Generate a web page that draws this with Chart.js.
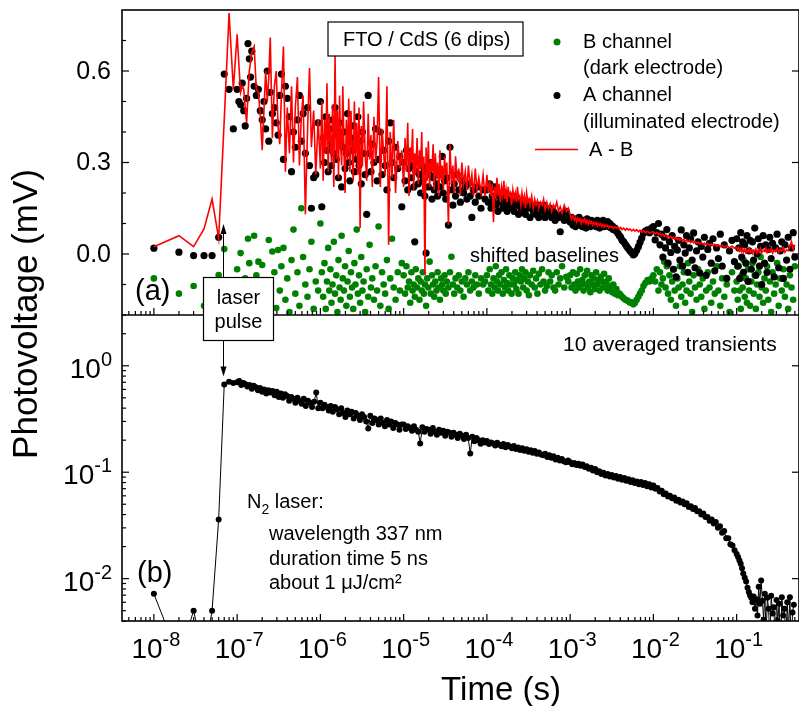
<!DOCTYPE html>
<html>
<head>
<meta charset="utf-8">
<title>Photovoltage transients</title>
<script src="https://cdn.jsdelivr.net/npm/chart.js@4.4.1/dist/chart.umd.min.js"></script>
<style>
  html, body { margin: 0; padding: 0; background: #fff; overflow: hidden; }
  canvas { display: block; }
</style>
</head>
<body>
<canvas id="grafico" width="803" height="706"></canvas>
<script>
// Upper panel: time base (s)
const timeTop = [
  1e-8, 2e-8, 3e-8, 4e-8, 5e-8, 6e-8, 7e-8, 8e-8, 9e-8,
  1.00e-7, 1.05e-7, 1.10e-7, 1.15e-7, 1.20e-7, 1.25e-7, 1.30e-7, 1.35e-7, 1.40e-7, 1.45e-7, 1.50e-7,
  1.60e-7, 1.70e-7, 1.80e-7, 1.90e-7, 2.00e-7, 2.10e-7, 2.20e-7, 2.30e-7, 2.40e-7, 2.50e-7,
  2.65e-7, 2.80e-7, 2.95e-7, 3.10e-7, 3.25e-7, 3.40e-7, 3.60e-7, 3.80e-7, 4.00e-7, 4.25e-7,
  4.50e-7, 4.75e-7, 5.00e-7, 5.30e-7, 5.60e-7, 5.90e-7, 6.20e-7, 6.60e-7, 7.00e-7, 7.40e-7,
  7.80e-7, 8.30e-7, 8.80e-7, 9.40e-7,
  1.00e-6, 1.04e-6, 1.08e-6, 1.12e-6, 1.16e-6, 1.20e-6, 1.24e-6, 1.28e-6, 1.32e-6, 1.36e-6, 1.40e-6,
  1.45e-6, 1.50e-6, 1.55e-6, 1.60e-6, 1.65e-6, 1.70e-6, 1.75e-6, 1.80e-6, 1.86e-6, 1.92e-6,
  1.98e-6, 2.05e-6, 2.12e-6, 2.19e-6, 2.26e-6, 2.33e-6, 2.40e-6, 2.48e-6, 2.56e-6, 2.64e-6,
  2.73e-6, 2.82e-6, 2.91e-6, 3.00e-6, 3.10e-6, 3.20e-6, 3.30e-6, 3.45e-6, 3.60e-6, 3.75e-6,
  3.90e-6, 4.05e-6, 4.20e-6, 4.40e-6, 4.60e-6, 4.80e-6, 5.00e-6, 5.25e-6, 5.50e-6, 5.75e-6,
  6.00e-6, 6.30e-6, 6.60e-6, 6.90e-6, 7.25e-6, 7.60e-6, 8.00e-6, 8.50e-6, 9.00e-6, 9.50e-6,
  1.00e-5, 1.04e-5, 1.08e-5, 1.12e-5, 1.16e-5, 1.20e-5, 1.24e-5, 1.28e-5, 1.32e-5, 1.36e-5, 1.40e-5,
  1.45e-5, 1.50e-5, 1.55e-5, 1.60e-5, 1.65e-5, 1.70e-5, 1.75e-5, 1.80e-5, 1.86e-5, 1.92e-5,
  1.98e-5, 2.05e-5, 2.12e-5, 2.19e-5, 2.26e-5, 2.33e-5, 2.40e-5, 2.48e-5, 2.56e-5, 2.64e-5,
  2.73e-5, 2.82e-5, 2.91e-5, 3.00e-5, 3.10e-5, 3.20e-5, 3.30e-5, 3.45e-5, 3.60e-5, 3.75e-5,
  3.90e-5, 4.05e-5, 4.20e-5, 4.40e-5, 4.60e-5, 4.80e-5, 5.00e-5, 5.25e-5, 5.50e-5, 5.75e-5,
  6.00e-5, 6.30e-5, 6.60e-5, 6.90e-5, 7.25e-5, 7.60e-5, 8.00e-5, 8.50e-5, 9.00e-5, 9.50e-5,
  1.00e-4, 1.04e-4, 1.08e-4, 1.12e-4, 1.16e-4, 1.20e-4, 1.24e-4, 1.28e-4, 1.32e-4, 1.36e-4, 1.40e-4,
  1.45e-4, 1.50e-4, 1.55e-4, 1.60e-4, 1.65e-4, 1.70e-4, 1.75e-4, 1.80e-4, 1.86e-4, 1.92e-4,
  1.98e-4, 2.05e-4, 2.12e-4, 2.19e-4, 2.26e-4, 2.33e-4, 2.40e-4, 2.48e-4, 2.56e-4, 2.64e-4,
  2.73e-4, 2.82e-4, 2.91e-4, 3.00e-4, 3.10e-4, 3.20e-4, 3.30e-4, 3.45e-4, 3.60e-4, 3.75e-4,
  3.90e-4, 4.05e-4, 4.20e-4, 4.40e-4, 4.60e-4, 4.80e-4, 5.00e-4, 5.25e-4, 5.50e-4, 5.75e-4,
  6.00e-4, 6.30e-4, 6.60e-4, 6.90e-4, 7.25e-4, 7.60e-4, 8.00e-4, 8.50e-4, 9.00e-4, 9.50e-4,
  1.00e-3, 1.04e-3, 1.08e-3, 1.12e-3, 1.16e-3, 1.20e-3, 1.24e-3, 1.28e-3, 1.32e-3, 1.36e-3, 1.40e-3,
  1.45e-3, 1.50e-3, 1.55e-3, 1.60e-3, 1.65e-3, 1.70e-3, 1.75e-3, 1.80e-3, 1.86e-3, 1.92e-3,
  1.98e-3, 2.05e-3, 2.12e-3, 2.19e-3, 2.26e-3, 2.33e-3, 2.40e-3, 2.48e-3, 2.56e-3, 2.64e-3,
  2.73e-3, 2.82e-3, 2.91e-3, 3.00e-3, 3.10e-3, 3.20e-3, 3.30e-3, 3.45e-3, 3.60e-3, 3.75e-3,
  3.90e-3, 4.05e-3, 4.20e-3, 4.40e-3, 4.60e-3, 4.80e-3, 5.00e-3, 5.25e-3, 5.50e-3, 5.75e-3,
  6.00e-3, 6.30e-3, 6.60e-3, 6.90e-3, 7.25e-3, 7.60e-3, 8.00e-3, 8.50e-3, 9.00e-3, 9.50e-3,
  1.00e-2, 1.05e-2, 1.10e-2, 1.15e-2, 1.20e-2, 1.25e-2, 1.30e-2, 1.35e-2, 1.40e-2, 1.45e-2, 1.50e-2,
  1.56e-2, 1.62e-2, 1.68e-2, 1.74e-2, 1.80e-2, 1.87e-2, 1.94e-2, 2.01e-2, 2.08e-2, 2.16e-2,
  2.24e-2, 2.32e-2, 2.41e-2, 2.50e-2, 2.60e-2, 2.70e-2, 2.80e-2, 2.92e-2, 3.04e-2, 3.16e-2,
  3.30e-2, 3.44e-2, 3.60e-2, 3.76e-2, 3.92e-2, 4.10e-2, 4.30e-2, 4.50e-2, 4.72e-2, 4.95e-2,
  5.20e-2, 5.46e-2, 5.74e-2, 6.04e-2, 6.36e-2, 6.70e-2, 7.10e-2, 7.60e-2, 8.20e-2, 8.80e-2, 9.40e-2,
  1.00e-1, 1.03e-1, 1.06e-1, 1.09e-1, 1.12e-1, 1.15e-1, 1.18e-1, 1.21e-1, 1.25e-1, 1.29e-1, 1.33e-1,
  1.37e-1, 1.41e-1, 1.45e-1, 1.50e-1, 1.55e-1, 1.60e-1, 1.65e-1, 1.70e-1, 1.76e-1, 1.82e-1,
  1.88e-1, 1.94e-1, 2.00e-1, 2.08e-1, 2.16e-1, 2.24e-1, 2.32e-1, 2.40e-1, 2.50e-1, 2.60e-1,
  2.70e-1, 2.82e-1, 2.94e-1, 3.06e-1, 3.20e-1, 3.34e-1, 3.48e-1, 3.64e-1, 3.80e-1, 3.98e-1,
  4.16e-1, 4.36e-1, 4.56e-1, 4.78e-1, 5.00e-1
];

// A channel, illuminated electrode (mV)
const chanA = [
  0.019, 0.006, -0.005, -0.005, -0.005, 0.055, 0.59, 0.54, 0.41,
  0.54, 0.50, 0.49, 0.56, 0.47, 0.42, 0.51, 0.69, 0.64, 0.58, 0.665,
  0.55, 0.52, 0.54, 0.47, 0.44, 0.50, 0.41, 0.60, 0.37, 0.53,
  0.46, 0.48, 0.43, 0.39, 0.52, 0.59, 0.31, 0.55, 0.51, 0.45,
  0.27, 0.40, 0.35, 0.44, 0.52, 0.37, 0.46, 0.33, 0.48, 0.29,
  0.15, 0.25, 0.26, 0.43,
  0.50, 0.155, 0.38, 0.30, 0.45, 0.34, 0.27, 0.41, 0.36, 0.29, 0.44,
  0.33, 0.48, 0.31, 0.39, 0.25, 0.43, 0.37, 0.22, 0.35, 0.40,
  0.28, 0.33, 0.46, 0.30, 0.24, 0.38, 0.34, 0.42, 0.27, 0.36,
  0.31, 0.45, 0.29, 0.37, 0.23, 0.40, 0.33, 0.26, 0.13, 0.52,
  0.33, 0.27, 0.36, 0.30, 0.41, 0.24, 0.31, 0.40, 0.26, 0.34,
  0.29, 0.21, 0.37, 0.43, 0.30, 0.25, 0.35, 0.28, 0.32, 0.155,
  0.30, 0.24, 0.34, 0.21, 0.28, 0.32, 0.25, 0.29, 0.22, 0.04, 0.27,
  0.31, 0.23, 0.26, 0.20, 0.29, 0.24, 0.27, 0.19, 0.003, 0.28,
  0.22, 0.26, 0.30, 0.18, 0.25, 0.21, 0.28, 0.23, 0.19, 0.26,
  0.22, 0.27, 0.32, 0.20, 0.24, 0.18, 0.25, 0.095, 0.35, 0.21,
  0.16, 0.23, 0.19, 0.26, 0.21, 0.17, 0.24, 0.20, 0.22, 0.18,
  0.23, 0.19, 0.12, 0.21, 0.17, 0.22, 0.19, 0.15, 0.21, 0.18,
  0.21, 0.17, 0.23, 0.15, 0.19, 0.17, 0.22, 0.16, 0.19, 0.14, 0.20,
  0.17, 0.19, 0.15, 0.18, 0.16, 0.20, 0.14, 0.18, 0.16, 0.17,
  0.15, 0.19, 0.14, 0.17, 0.16, 0.18, 0.13, 0.17, 0.15, 0.16,
  0.14, 0.17, 0.13, 0.16, 0.15, 0.17, 0.12, 0.16, 0.14, 0.15,
  0.13, 0.16, 0.12, 0.15, 0.14, 0.16, 0.12, 0.14, 0.13, 0.15,
  0.12, 0.14, 0.11, 0.13, 0.12, 0.073, 0.13, 0.11, 0.14, 0.12,
  0.105, 0.12, 0.095, 0.11, 0.09, 0.115, 0.10, 0.12, 0.095, 0.105, 0.09,
  0.11, 0.10, 0.085, 0.115, 0.095, 0.105, 0.09, 0.11, 0.10, 0.095,
  0.105, 0.09, 0.11, 0.10, 0.085, 0.105, 0.095, 0.11, 0.09, 0.10,
  0.095, 0.106, 0.09, 0.10, 0.085, 0.092, 0.08, 0.085, 0.075, 0.068,
  0.06, 0.055, 0.045, 0.04, 0.032, 0.024, 0.018, 0.01, 0.004, -0.003,
  0.002, 0.012, 0.024, 0.038, 0.052, 0.068, 0.075, 0.079, 0.07, 0.085,
  0.09, 0.046, 0.07, 0.10, 0.03, 0.065, -0.01, 0.055, 0.02, 0.08, -0.03,
  0.04, 0.005, 0.06, -0.05, 0.025, -0.075, 0.013, 0.045, -0.02, 0.079,
  -0.04, 0.03, 0.003, 0.06, -0.06, 0.02, 0.05, -0.02, 0.069, -0.045,
  0.01, 0.04, -0.062, 0.025, -0.01, 0.055, -0.07, 0.015, 0.035, -0.03,
  0.05, -0.055, 0.02, -0.015, 0.065, -0.04, 0.03, -0.08, 0.01, 0.045, -0.025,
  0.05, -0.04, 0.02, -0.08, 0.07, -0.01, 0.04, -0.06, 0.03, -0.03, 0.06,
  -0.09, 0.01, 0.045, -0.05, 0.04, -0.02, 0.085, -0.07, 0.0, 0.05,
  -0.04, 0.025, -0.10, 0.06, -0.03, 0.03, -0.06, 0.015, 0.055, -0.015,
  0.035, -0.075, 0.02, 0.065, -0.045, 0.01, 0.04, -0.08, 0.03, -0.02,
  0.055, -0.05, 0.02, 0.07, -0.01
];

// B channel, dark electrode (mV, shifted baseline)
const chanB = [
  -0.08, -0.13, -0.105, -0.17, -0.19, -0.069, 0.016, -0.14, -0.18,
  -0.05, -0.16, 0.003, -0.12, -0.19, -0.08, -0.14, 0.05, -0.03, -0.17, -0.10,
  0.06, -0.07, -0.025, -0.156, -0.036, -0.11, -0.18, -0.09, 0.046, -0.145,
  0.008, -0.06, -0.177, 0.013, -0.12, -0.04, 0.02, -0.15, -0.08, -0.19,
  -0.02, 0.08, -0.13, -0.06, -0.17, 0.15, -0.01, -0.10, -0.14, -0.05,
  0.04, -0.18, -0.09, -0.12,
  0.10, -0.06, -0.14, -0.03, -0.18, -0.09, 0.02, -0.12, -0.05, -0.16, -0.10,
  0.04, -0.13, -0.07, -0.19, -0.02, -0.11, -0.15, 0.06, -0.08, -0.12,
  -0.04, -0.17, -0.09, 0.01, -0.14, -0.06, -0.11, -0.18, -0.03, -0.10,
  0.08, -0.13, -0.07, -0.16, -0.01, -0.12, -0.09, -0.19, -0.05, -0.14,
  0.03, -0.11, -0.08, -0.15, -0.04, -0.12, 0.09, -0.17, -0.06, -0.10,
  -0.13, -0.02, -0.18, -0.08, 0.05, -0.11, -0.15, -0.06, -0.12, -0.03,
  -0.07, -0.13, -0.04, -0.11, -0.09, -0.16, -0.06, -0.12, -0.10, -0.14, -0.05,
  -0.11, -0.08, -0.15, -0.09, -0.12, -0.06, -0.13, -0.10, -0.17, -0.08,
  -0.11, -0.025, -0.13, -0.07, -0.10, -0.14, -0.09, -0.12, -0.06, -0.11,
  -0.15, -0.08, -0.10, -0.12, -0.07, -0.13, -0.09, -0.11, -0.06, -0.009,
  -0.10, -0.13, -0.08, -0.11, -0.07, -0.12, -0.09, -0.14, -0.08, -0.10,
  -0.06, -0.12, -0.09, -0.11, -0.07, -0.10, -0.13, -0.08, -0.10, -0.09,
  -0.07, -0.12, -0.05, -0.10, -0.13, -0.08, -0.11, -0.04, -0.09, -0.12, -0.07,
  -0.10, -0.06, -0.13, -0.085, -0.11, -0.05, -0.095, -0.12, -0.07, -0.10,
  -0.13, -0.08, -0.10, -0.06, -0.115, -0.085, -0.13, -0.07, -0.09, -0.05,
  -0.11, -0.08, -0.06, -0.12, -0.09, -0.135, -0.07, -0.10, -0.055, -0.11,
  -0.08, -0.13, -0.065, -0.10, -0.05, -0.09, -0.12, -0.105, -0.06, -0.09,
  -0.07, -0.11, -0.12, -0.06, -0.10, -0.08, -0.04, -0.11, -0.075, -0.09,
  -0.07, -0.11, -0.06, -0.10, -0.12, -0.065, -0.09, -0.11, -0.05, -0.10, -0.085,
  -0.12, -0.07, -0.10, -0.055, -0.11, -0.09, -0.125, -0.07, -0.10, -0.08,
  -0.115, -0.06, -0.10, -0.085, -0.12, -0.075, -0.09, -0.11, -0.065, -0.10,
  -0.09, -0.12, -0.08, -0.11, -0.105, -0.125, -0.10, -0.13, -0.115, -0.135,
  -0.13, -0.135, -0.14, -0.145, -0.15, -0.152, -0.155, -0.16, -0.158, -0.165,
  -0.16, -0.15, -0.14, -0.13, -0.12, -0.105, -0.095, -0.085, -0.09, -0.08,
  -0.07, -0.09, -0.05, -0.12, -0.06, -0.10, -0.08, -0.025, -0.11, -0.04, -0.13,
  -0.07, -0.15, -0.09, -0.05, -0.12, -0.17, -0.08, -0.11, -0.04, -0.14,
  -0.10, -0.06, -0.16, -0.12, -0.03, -0.09, -0.13, -0.19, -0.07, -0.11,
  -0.15, -0.05, -0.10, -0.14, -0.08, -0.18, -0.12, -0.06, -0.11, -0.16,
  -0.09, -0.13, -0.04, -0.12, -0.17, -0.08, -0.14, -0.10, -0.19, -0.06, -0.12,
  -0.09, -0.15, -0.04, -0.12, -0.18, -0.07, -0.11, -0.02, -0.14, -0.08, -0.16,
  -0.05, -0.12, -0.17, -0.09, -0.03, -0.13, -0.07, -0.18, -0.10, -0.06,
  -0.14, -0.01, -0.11, -0.16, -0.08, -0.12, -0.04, -0.15, -0.09, -0.19,
  -0.06, -0.13, -0.10, -0.03, -0.17, -0.08, -0.12, -0.05, -0.14, -0.10,
  -0.18, -0.07, -0.11, -0.15, -0.04
];

// A - B difference (mV)
const diffAB = [
  0.024, 0.060, 0.024, 0.082, 0.180, 0.051, 0.44, 0.79, 0.54,
  0.72, 0.62, 0.53, 0.55, 0.54, 0.48, 0.43, 0.52, 0.60, 0.63, 0.66,
  0.68, 0.54, 0.53, 0.45, 0.34, 0.47, 0.60, 0.50, 0.58, 0.71,
  0.38, 0.55, 0.60, 0.42, 0.36, 0.52, 0.68, 0.27, 0.48, 0.33,
  0.55, 0.30, 0.48, 0.58, 0.29, 0.45, 0.52, 0.13, 0.40, 0.61,
  0.35, 0.47, 0.26, 0.44,
  0.28, 0.50, 0.24, 0.44, 0.33, 0.56, 0.27, 0.46, 0.38, 0.30, 0.49,
  0.22, 0.65, 0.31, 0.47, 0.25, 0.52, 0.36, 0.29, 0.55, 0.34,
  0.20, 0.44, 0.31, 0.51, 0.27, 0.47, 0.35, 0.24, 0.50, 0.32,
  0.43, 0.26, 0.48, 0.085, 0.42, 0.29, 0.50, 0.33, 0.24, 0.46,
  0.31, 0.39, 0.22, 0.45, 0.30, 0.37, 0.58, 0.22, 0.41, 0.33,
  0.26, 0.55, 0.03, 0.40, 0.25, 0.44, 0.20, 0.37, 0.28, 0.34,
  0.22, 0.38, 0.27, 0.43, 0.19, 0.35, 0.30, 0.41, 0.21, 0.33, 0.26,
  0.38, 0.23, 0.34, 0.28, 0.40, 0.20, 0.32, -0.07, 0.35, 0.24,
  0.37, 0.22, 0.31, 0.27, 0.36, 0.21, 0.33, 0.25, 0.30, 0.19,
  0.34, 0.24, 0.29, 0.21, 0.32, 0.26, 0.30, 0.095, 0.36, 0.23,
  0.29, 0.20, 0.32, 0.24, 0.28, 0.19, 0.30, 0.23, 0.27, 0.21,
  0.29, 0.22, 0.26, 0.19, 0.28, 0.21, 0.25, 0.20, 0.26, 0.19,
  0.26, 0.20, 0.24, 0.19, 0.23, 0.105, 0.22, 0.18, 0.25, 0.19, 0.23,
  0.17, 0.22, 0.19, 0.24, 0.18, 0.21, 0.17, 0.22, 0.19, 0.20,
  0.16, 0.21, 0.18, 0.20, 0.17, 0.22, 0.18, 0.19, 0.16, 0.20,
  0.17, 0.19, 0.15, 0.20, 0.17, 0.18, 0.16, 0.19, 0.15, 0.18,
  0.16, 0.175, 0.15, 0.17, 0.16, 0.18, 0.145, 0.17, 0.15, 0.165,
  0.14, 0.16, 0.15, 0.17, 0.14, 0.155, 0.135, 0.16, 0.14, 0.15,
  0.13, 0.115, 0.125, 0.11, 0.12, 0.105, 0.118, 0.11, 0.115, 0.10, 0.112,
  0.105, 0.115, 0.10, 0.11, 0.098, 0.108, 0.10, 0.106, 0.095, 0.104,
  0.097, 0.103, 0.092, 0.10, 0.094, 0.099, 0.09, 0.097, 0.088, 0.095,
  0.09, 0.094, 0.086, 0.092, 0.088, 0.09, 0.083, 0.089, 0.085, 0.088,
  0.081, 0.087, 0.08, 0.085, 0.078, 0.084, 0.079, 0.082, 0.076, 0.081,
  0.075, 0.08, 0.073, 0.078, 0.071, 0.076, 0.07, 0.074, 0.068, 0.072,
  0.072, 0.066, 0.071, 0.063, 0.068, 0.06, 0.065, 0.058, 0.063, 0.056, 0.06,
  0.054, 0.058, 0.051, 0.056, 0.049, 0.054, 0.047, 0.052, 0.045, 0.05,
  0.044, 0.048, 0.042, 0.046, 0.04, 0.045, 0.038, 0.043, 0.036, 0.041,
  0.035, 0.039, 0.033, 0.038, 0.031, 0.036, 0.03, 0.035, 0.028, 0.033,
  0.027, 0.032, 0.025, 0.03, 0.024, 0.029, 0.022, 0.028, 0.02, 0.026, 0.019,
  0.022, 0.014, 0.02, 0.01, 0.018, 0.008, 0.016, 0.006, 0.015, 0.004, 0.013,
  0.007, 0.017, 0.005, 0.014, 0.002, 0.012, 0.008, 0.016, 0.003, 0.013,
  0.006, 0.018, 0.004, 0.012, 0.009, 0.02, 0.005, 0.014, 0.007, 0.017,
  0.003, 0.013, 0.008, 0.019, 0.005, 0.015, 0.01, 0.021, 0.006, 0.014,
  0.011, 0.025, 0.04, 0.014, 0.03
];

// Lower panel: 10 averaged transients
const timeAvg = [
  1e-8, 2e-8, 3e-8, 4e-8, 5e-8, 6e-8, 7e-8, 8e-8, 9e-8,
  1.00e-7, 1.06e-7, 1.12e-7, 1.19e-7, 1.26e-7, 1.33e-7, 1.41e-7, 1.50e-7, 1.58e-7, 1.68e-7,
  1.78e-7, 1.88e-7, 2.00e-7, 2.11e-7, 2.24e-7, 2.37e-7, 2.51e-7, 2.66e-7, 2.82e-7, 2.99e-7,
  3.16e-7, 3.35e-7, 3.55e-7, 3.76e-7, 3.98e-7, 4.22e-7, 4.47e-7, 4.73e-7, 5.01e-7, 5.31e-7,
  5.62e-7, 5.96e-7, 6.31e-7, 6.68e-7, 7.08e-7, 7.50e-7, 7.94e-7, 8.41e-7, 8.91e-7, 9.44e-7,
  1.00e-6, 1.06e-6, 1.12e-6, 1.19e-6, 1.26e-6, 1.33e-6, 1.41e-6, 1.50e-6, 1.58e-6, 1.68e-6,
  1.78e-6, 1.88e-6, 2.00e-6, 2.11e-6, 2.24e-6, 2.37e-6, 2.51e-6, 2.66e-6, 2.82e-6, 2.99e-6,
  3.16e-6, 3.35e-6, 3.55e-6, 3.76e-6, 3.98e-6, 4.22e-6, 4.47e-6, 4.73e-6, 5.01e-6, 5.31e-6,
  5.62e-6, 5.96e-6, 6.31e-6, 6.68e-6, 7.08e-6, 7.50e-6, 7.94e-6, 8.41e-6, 8.91e-6, 9.44e-6,
  1.00e-5, 1.06e-5, 1.12e-5, 1.19e-5, 1.26e-5, 1.33e-5, 1.41e-5, 1.50e-5, 1.58e-5, 1.68e-5,
  1.78e-5, 1.88e-5, 2.00e-5, 2.11e-5, 2.24e-5, 2.37e-5, 2.51e-5, 2.66e-5, 2.82e-5, 2.99e-5,
  3.16e-5, 3.35e-5, 3.55e-5, 3.76e-5, 3.98e-5, 4.22e-5, 4.47e-5, 4.73e-5, 5.01e-5, 5.31e-5,
  5.62e-5, 5.96e-5, 6.31e-5, 6.68e-5, 7.08e-5, 7.50e-5, 7.94e-5, 8.41e-5, 8.91e-5, 9.44e-5,
  1.00e-4, 1.06e-4, 1.12e-4, 1.19e-4, 1.26e-4, 1.33e-4, 1.41e-4, 1.50e-4, 1.58e-4, 1.68e-4,
  1.78e-4, 1.88e-4, 2.00e-4, 2.11e-4, 2.24e-4, 2.37e-4, 2.51e-4, 2.66e-4, 2.82e-4, 2.99e-4,
  3.16e-4, 3.35e-4, 3.55e-4, 3.76e-4, 3.98e-4, 4.22e-4, 4.47e-4, 4.73e-4, 5.01e-4, 5.31e-4,
  5.62e-4, 5.96e-4, 6.31e-4, 6.68e-4, 7.08e-4, 7.50e-4, 7.94e-4, 8.41e-4, 8.91e-4, 9.44e-4,
  1.00e-3, 1.06e-3, 1.12e-3, 1.19e-3, 1.26e-3, 1.33e-3, 1.41e-3, 1.50e-3, 1.58e-3, 1.68e-3,
  1.78e-3, 1.88e-3, 2.00e-3, 2.11e-3, 2.24e-3, 2.37e-3, 2.51e-3, 2.66e-3, 2.82e-3, 2.99e-3,
  3.16e-3, 3.35e-3, 3.55e-3, 3.76e-3, 3.98e-3, 4.22e-3, 4.47e-3, 4.73e-3, 5.01e-3, 5.31e-3,
  5.62e-3, 5.96e-3, 6.31e-3, 6.68e-3, 7.08e-3, 7.50e-3, 7.94e-3, 8.41e-3, 8.91e-3, 9.44e-3,
  1.00e-2, 1.06e-2, 1.12e-2, 1.19e-2, 1.26e-2, 1.33e-2, 1.41e-2, 1.50e-2, 1.58e-2, 1.68e-2,
  1.78e-2, 1.88e-2, 2.00e-2, 2.11e-2, 2.24e-2, 2.37e-2, 2.51e-2, 2.66e-2, 2.82e-2, 2.99e-2,
  3.16e-2, 3.35e-2, 3.55e-2, 3.76e-2, 3.98e-2, 4.22e-2, 4.47e-2, 4.73e-2, 5.01e-2, 5.31e-2,
  5.62e-2, 5.96e-2, 6.31e-2, 6.68e-2, 7.08e-2, 7.50e-2, 7.94e-2, 8.41e-2, 8.91e-2, 9.44e-2,
  1.00e-1, 1.04e-1, 1.08e-1, 1.12e-1, 1.16e-1, 1.20e-1, 1.25e-1, 1.30e-1, 1.35e-1, 1.40e-1,
  1.45e-1, 1.50e-1, 1.55e-1, 1.60e-1, 1.66e-1, 1.72e-1, 1.78e-1, 1.84e-1, 1.90e-1, 1.97e-1,
  2.04e-1, 2.11e-1, 2.18e-1, 2.26e-1, 2.34e-1, 2.42e-1, 2.51e-1, 2.60e-1, 2.70e-1, 2.80e-1,
  2.90e-1, 3.01e-1, 3.12e-1, 3.24e-1, 3.36e-1, 3.49e-1, 3.62e-1, 3.76e-1, 3.90e-1, 4.05e-1,
  4.20e-1, 4.36e-1, 4.52e-1, 4.69e-1, 4.86e-1
];
const photoAvg = [
  0.0072, 0.0018, 0.005, 0.0018, 0.005, 0.036, 0.668, 0.707, 0.69,
  0.70, 0.72, 0.66, 0.69, 0.67, 0.64, 0.66, 0.61, 0.65, 0.63,
  0.59, 0.62, 0.57, 0.60, 0.55, 0.59, 0.56, 0.58, 0.53, 0.57,
  0.51, 0.55, 0.50, 0.54, 0.52, 0.47, 0.51, 0.49, 0.45, 0.50,
  0.47, 0.44, 0.49, 0.42, 0.47, 0.45, 0.41, 0.46, 0.56, 0.40,
  0.45, 0.40, 0.43, 0.41, 0.38, 0.42, 0.37, 0.41, 0.39, 0.35,
  0.40, 0.36, 0.33, 0.38, 0.35, 0.37, 0.32, 0.36, 0.34, 0.31,
  0.35, 0.33, 0.30, 0.258, 0.34, 0.29, 0.32, 0.31, 0.28, 0.32,
  0.29, 0.27, 0.31, 0.28, 0.30, 0.26, 0.29, 0.28, 0.25, 0.28,
  0.28, 0.255, 0.27, 0.26, 0.245, 0.27, 0.25, 0.24, 0.186, 0.265,
  0.24, 0.255, 0.25, 0.23, 0.26, 0.24, 0.225, 0.25, 0.235, 0.245,
  0.22, 0.24, 0.235, 0.215, 0.235, 0.225, 0.21, 0.23, 0.22, 0.205,
  0.225, 0.21, 0.15, 0.215, 0.195, 0.21, 0.2, 0.185, 0.2, 0.19,
  0.196, 0.184, 0.19, 0.186, 0.178, 0.189, 0.181, 0.175, 0.184, 0.172,
  0.18, 0.174, 0.168, 0.176, 0.165, 0.171, 0.162, 0.168, 0.159, 0.164,
  0.156, 0.161, 0.152, 0.158, 0.149, 0.153, 0.147, 0.144, 0.149, 0.139,
  0.144, 0.137, 0.141, 0.132, 0.137, 0.129, 0.133, 0.127, 0.124, 0.129,
  0.124, 0.119, 0.122, 0.117, 0.12, 0.115, 0.118, 0.112, 0.114, 0.108,
  0.11, 0.104, 0.107, 0.1, 0.102, 0.096, 0.099, 0.093, 0.096, 0.091,
  0.094, 0.089, 0.092, 0.087, 0.09, 0.085, 0.088, 0.083, 0.086, 0.081,
  0.084, 0.079, 0.082, 0.077, 0.081, 0.076, 0.079, 0.074, 0.077, 0.072,
  0.075, 0.07, 0.071, 0.066, 0.067, 0.062, 0.063, 0.059, 0.06, 0.057,
  0.058, 0.054, 0.055, 0.052, 0.053, 0.05, 0.051, 0.047, 0.048, 0.045,
  0.046, 0.043, 0.043, 0.04, 0.041, 0.038, 0.038, 0.035, 0.036, 0.033,
  0.034, 0.03, 0.031, 0.027, 0.028, 0.024, 0.024, 0.021, 0.0205, 0.0185,
  0.017, 0.016, 0.0148, 0.0138, 0.0125, 0.0112, 0.0102, 0.0094, 0.0082, 0.0075,
  0.0070, 0.0066, 0.0060, 0.0068, 0.0052, 0.0064, 0.0045, 0.0084, 0.0058, 0.0096,
  0.0062, 0.0041, 0.0072, 0.0030, 0.0066, 0.0052, 0.0025, 0.0069, 0.0047, 0.0054,
  0.0022, 0.0063, 0.0040, 0.0058, 0.0018, 0.0067, 0.0045, 0.0052, 0.0021, 0.0060,
  0.0033, 0.0067, 0.0020, 0.0048, 0.0057
];

// Axis ranges and labelled ticks
const timeRange = [4.14e-9, 0.561];
const topRange = [-0.2, 0.8];
const botRange = [0.004, 3];
const xTickExp = [-8, -7, -6, -5, -4, -3, -2, -1];
const topTickLabels = [0.0, 0.3, 0.6];
const botTickExp = [-2, -1, 0];

const FONT = '"Liberation Sans", Arial, sans-serif';
const GREEN = '#008000';
const RED = '#ff0000';

const pontos = (tempos, valores) => tempos.map((t, i) => ({ x: t, y: valores[i] }));

// ticks 1..9 x 10^n inside a range
function logTicks(min, max) {
    const out = [];
    for (let e = Math.floor(Math.log10(min)); e <= Math.ceil(Math.log10(max)); e++) {
        for (let m = 1; m <= 9; m++) {
            const v = m * Math.pow(10, e);
            if (v >= min * 0.999 && v <= max * 1.001) out.push({ v, major: m === 1 });
        }
    }
    return out;
}

function linha(ctx, x1, y1, x2, y2) {
    ctx.beginPath();
    ctx.moveTo(x1, y1);
    ctx.lineTo(x2, y2);
    ctx.stroke();
}

function texto(ctx, str, x, y, size, align = 'left') {
    ctx.font = `${size}px ${FONT}`;
    ctx.textAlign = align;
    ctx.textBaseline = 'alphabetic';
    ctx.fillText(str, x, y);
}

// "10" with a raised exponent
function potencia(ctx, exp, x, y, align) {
    ctx.font = `28px ${FONT}`;
    const wBase = ctx.measureText('10').width;
    ctx.font = `20px ${FONT}`;
    const wExp = ctx.measureText(exp).width;
    const x0 = align === 'center' ? x - (wBase + wExp) / 2 : x - (wBase + wExp);
    texto(ctx, '10', x0, y, 28);
    texto(ctx, exp, x0 + wBase, y - 12, 20);
}

function seta(ctx, x, yFrom, yTip) {
    const dir = yTip < yFrom ? 1 : -1;
    linha(ctx, x, yFrom, x, yTip + dir * 8);
    ctx.beginPath();
    ctx.moveTo(x, yTip);
    ctx.lineTo(x - 3, yTip + dir * 10);
    ctx.lineTo(x + 3, yTip + dir * 10);
    ctx.closePath();
    ctx.fill();
}

// Frame, ticks, labels and annotations for both panels
const moldura = {
    id: 'moldura',
    afterDraw(chart) {
        const { ctx } = chart;
        const { x, yTop, yBot } = chart.scales;
        const L = x.left, R = x.right, T = yTop.top, M = yTop.bottom, B = yBot.bottom;
        ctx.save();
        ctx.strokeStyle = '#000';
        ctx.fillStyle = '#000';

        // frame and divider
        ctx.lineWidth = 1.6;
        ctx.strokeRect(L, T, R - L, B - T);
        linha(ctx, L, M, R, M);

        // time ticks, pointing inwards
        ctx.lineWidth = 1.2;
        logTicks(timeRange[0], timeRange[1]).forEach(tk => {
            const px = x.getPixelForValue(tk.v);
            const len = tk.major ? 7 : 4;
            linha(ctx, px, M, px, M - len);
            linha(ctx, px, B, px, B - len);
        });

        // upper panel y ticks every 0.1, labelled every 0.3
        for (let k = -1; k <= 7; k++) {
            const py = yTop.getPixelForValue(k / 10);
            const major = k % 3 === 0;
            linha(ctx, L, py, L + (major ? 7 : 4), py);
            if (major) linha(ctx, R, py, R - 7, py);
        }

        // lower panel log ticks
        logTicks(botRange[0], botRange[1]).forEach(tk => {
            const py = yBot.getPixelForValue(tk.v);
            linha(ctx, L, py, L + (tk.major ? 7 : 4), py);
            if (tk.major) linha(ctx, R, py, R - 7, py);
        });

        // tick labels
        topTickLabels.forEach(v => {
            ctx.font = `25px ${FONT}`;
            ctx.textAlign = 'right';
            ctx.textBaseline = 'middle';
            ctx.fillText(v.toFixed(1), L - 11, yTop.getPixelForValue(v) + 1);
        });
        botTickExp.forEach(e => potencia(ctx, String(e), L - 10, yBot.getPixelForValue(Math.pow(10, e)) + 12, 'right'));
        xTickExp.forEach(e => potencia(ctx, String(e), x.getPixelForValue(Math.pow(10, e)) + 2, B + 37, 'center'));

        // axis titles
        texto(ctx, 'Time (s)', 501, 700, 33, 'center');
        ctx.save();
        ctx.translate(37, 314);
        ctx.rotate(-Math.PI / 2);
        texto(ctx, 'Photovoltage (mV)', 0, 0, 35, 'center');
        ctx.restore();

        // sample box
        ctx.lineWidth = 1.2;
        ctx.fillStyle = '#fff';
        ctx.fillRect(328, 22, 195, 34);
        ctx.strokeRect(328, 22, 195, 34);
        ctx.fillStyle = '#000';
        texto(ctx, 'FTO / CdS (6 dips)', 343, 46, 20);

        // legend
        ctx.fillStyle = GREEN;
        ctx.beginPath(); ctx.arc(557, 42, 3.5, 0, 2 * Math.PI); ctx.fill();
        ctx.fillStyle = '#000';
        ctx.beginPath(); ctx.arc(557, 95.5, 3.5, 0, 2 * Math.PI); ctx.fill();
        ctx.strokeStyle = RED;
        ctx.lineWidth = 1.6;
        linha(ctx, 535, 149.5, 578, 149.5);
        ctx.strokeStyle = '#000';
        texto(ctx, 'B channel', 583, 47.5, 20);
        texto(ctx, '(dark electrode)', 583, 74, 20);
        texto(ctx, 'A channel', 583, 101, 20);
        texto(ctx, '(illuminated electrode)', 583, 128, 20);
        texto(ctx, 'A - B', 589, 156, 20);

        texto(ctx, 'shifted baselines', 470, 261.5, 20);
        texto(ctx, '(a)', 135, 300, 29);
        texto(ctx, '(b)', 137, 582, 29);
        texto(ctx, '10 averaged transients', 563, 350.5, 21);

        // laser annotation
        ctx.fillStyle = '#fff';
        ctx.fillRect(203.5, 277.5, 70, 63);
        ctx.lineWidth = 1.2;
        ctx.strokeRect(203.5, 277.5, 70, 63);
        ctx.fillStyle = '#000';
        texto(ctx, 'laser', 238.5, 303.5, 20, 'center');
        texto(ctx, 'pulse', 238.5, 327.5, 20, 'center');
        ctx.lineWidth = 1;
        seta(ctx, 223.5, 277.5, 224);
        seta(ctx, 223.5, 340.5, 376.5);

        // excitation details
        ctx.font = `20px ${FONT}`;
        const wN = ctx.measureText('N').width;
        texto(ctx, 'N', 247, 508, 20);
        texto(ctx, '2', 247 + wN, 514, 14);
        ctx.font = `14px ${FONT}`;
        const w2 = ctx.measureText('2').width;
        texto(ctx, ' laser:', 247 + wN + w2, 508, 20);
        texto(ctx, 'wavelength 337 nm', 269, 540, 20);
        texto(ctx, 'duration time 5 ns', 269, 564.5, 20);
        texto(ctx, 'about 1 μJ/cm²', 269, 589, 20);

        ctx.restore();
    }
};

new Chart(document.getElementById('grafico'), {
    type: 'scatter',
    data: {
        datasets: [
            {
                label: 'A - B', data: pontos(timeTop, diffAB), yAxisID: 'yTop',
                showLine: true, borderColor: RED, borderWidth: 1.6, pointRadius: 0, order: 0
            },
            {
                label: 'A channel', data: pontos(timeTop, chanA), yAxisID: 'yTop',
                pointRadius: 3.6, pointBorderWidth: 0, pointBackgroundColor: '#000', order: 1
            },
            {
                label: 'B channel', data: pontos(timeTop, chanB), yAxisID: 'yTop',
                pointRadius: 3.3, pointBorderWidth: 0, pointBackgroundColor: GREEN, order: 2
            },
            {
                label: '10 averaged transients', data: pontos(timeAvg, photoAvg), yAxisID: 'yBot',
                showLine: true, borderColor: '#000', borderWidth: 1, pointRadius: 3,
                pointBorderWidth: 0, pointBackgroundColor: '#000', clip: 0, order: 3
            }
        ]
    },
    options: {
        responsive: false,
        animation: false,
        events: [],
        layout: { padding: { left: 122, right: 2, top: 10, bottom: 85 } },
        plugins: { legend: { display: false }, tooltip: { enabled: false } },
        scales: {
            x: { type: 'logarithmic', min: timeRange[0], max: timeRange[1], display: false },
            yTop: {
                type: 'linear', position: 'left', min: topRange[0], max: topRange[1],
                stack: 'paineis', stackWeight: 305, weight: 2, display: false
            },
            yBot: {
                type: 'logarithmic', position: 'left', min: botRange[0], max: botRange[1],
                stack: 'paineis', stackWeight: 306, weight: 1, display: false
            }
        }
    },
    plugins: [moldura]
});
</script>
</body>
</html>
